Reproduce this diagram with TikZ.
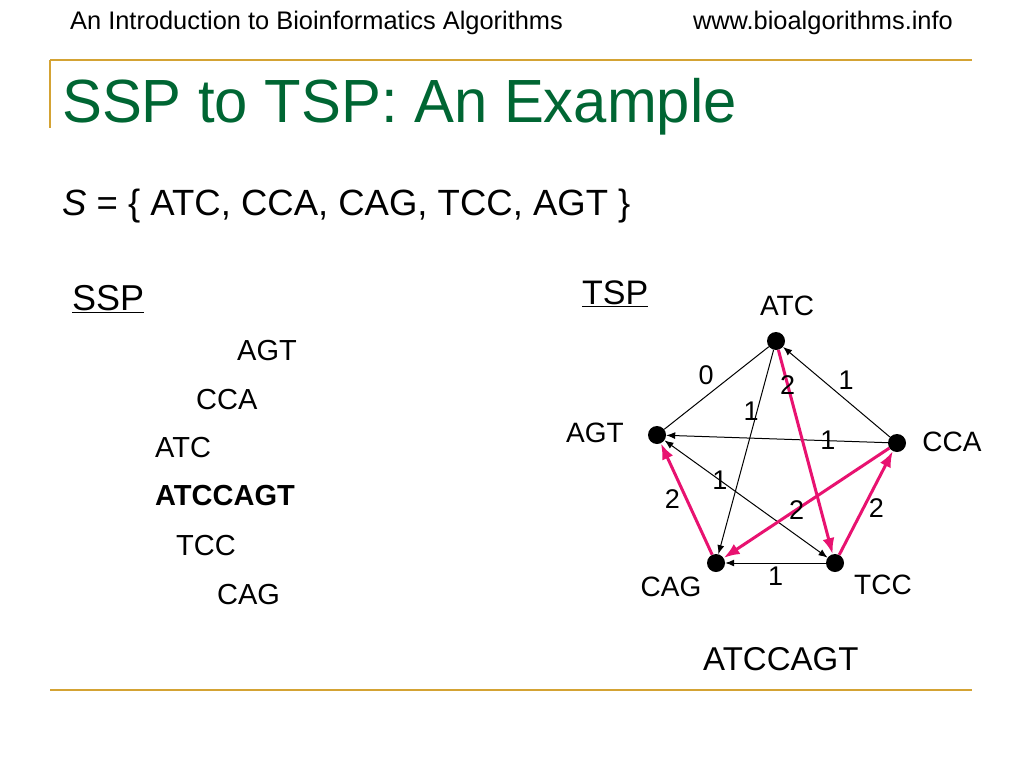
\documentclass[tikz,border=0pt]{standalone}
\usepackage{fontspec}
\setmainfont{Liberation Sans}
\usepackage{xcolor}
\usetikzlibrary{arrows.meta, positioning, calc}
\definecolor{gold}{RGB}{212,163,52}
\definecolor{ttlgreen}{RGB}{0,102,51}
\definecolor{pathpink}{RGB}{232,18,112}
\newcommand\fsz[1]{\fontsize{#1}{#1}\selectfont}

\begin{document}
\begin{tikzpicture}[x=1pt, y=-1pt,
    txt/.style={inner sep=0pt, anchor=base west},
    dot/.style={circle, fill=black, minimum size=18pt, inner sep=0pt},
    vname/.style={inner sep=0pt, font=\fsz{28}},
    wt/.style={inner sep=1pt, font=\fsz{27}},
    blk/.style={line width=1pt, -{Latex[length=9pt,width=7pt]}},
    pnk/.style={draw=pathpink, line width=3pt, -{Latex[length=16pt,width=12pt]}},
    rule/.style={draw=gold, line width=2pt}]
    \useasboundingbox (0,0) rectangle (1024,768);
    % header and title
    \node[txt, font=\fsz{25.4}] (hdl) at (70,30) {An Introduction to Bioinformatics Algorithms};
    \node[txt, anchor=base east, font=\fsz{25.4}] (hdr) at (953,30) {www.bioalgorithms.info};
    \draw[rule] (50,60) -- (972,60);
    \draw[rule] (50,60) -- (50,128);
    \node[txt, font=\fsz{61}, text=ttlgreen, xscale=.98] (ttl) at (62,122) {SSP to TSP: An Example};
    \node[txt, font=\fsz{36.5}] (set) at (62,215) {\textit{S} = \{ ATC, CCA, CAG, TCC, AGT \}};
    % SSP side
    \node[txt, font=\fsz{36}] (ssp) at (72,310) {\underline{SSP}};
    \begin{scope}[every node/.style={inner sep=0pt, anchor=west, font=\fsz{29}}]
        \node (s1) at (237,351) {AGT};
        \node (s2) at (196,400) {CCA};
        \node (s3) at (155,448) {ATC};
        \node (s4) at (155,496) {\bfseries ATCCAGT};
        \node (s5) at (176,546) {TCC};
        \node (s6) at (217,595) {CAG};
    \end{scope}
    % TSP side
    \node[txt, font=\fsz{34}] (tsp) at (582,304) {\underline{TSP}};
    \node[dot] (atc) at (776,341) {};
    \node[dot] (agt) at (657,435) {};
    \node[dot] (cca) at (897,443) {};
    \node[dot] (cag) at (716,563) {};
    \node[dot] (tcc) at (835,563) {};
    \node[vname] (latc) at (787,306) {ATC};
    \node[vname] (lagt) at (595,433) {AGT};
    \node[vname] (lcca) at (952,442) {CCA};
    \node[vname] (lcag) at (671,587) {CAG};
    \node[vname] (ltcc) at (883,585) {TCC};

    \draw[line width=1pt] (atc) -- node[wt, pos=.5, above left=2pt] {0} (agt);
    \draw[blk] (cca) -- node[wt, pos=.5, above right=1pt] {1} (atc);
    \draw[blk] (atc) -- node[wt, pos=.3, xshift=-6pt] {1} (cag);
    \draw[blk] (cca) -- node[wt, pos=.27] {1} (agt);
    \draw[line width=1pt, {Latex[length=9pt,width=7pt]}-{Latex[length=9pt,width=7pt]}] (agt) -- node[wt, pos=.34] {1} (tcc);
    \draw[blk] (tcc) -- node[wt, pos=.5, below=2pt] {1} (cag);
    \draw[pnk] (atc) -- node[wt, pos=.17, text=black] {2} (tcc);
    \draw[pnk] (cca) -- node[wt, pos=.56, text=black] {2} (cag);
    \draw[pnk] (cag) -- node[wt, pos=.5, left=4pt, text=black] {2} (agt);
    \draw[pnk] (tcc) -- node[wt, pos=.45, right=3pt, text=black] {2} (cca);

    \node[txt, font=\fsz{33}] (res) at (703,670) {ATCCAGT};
    \draw[rule] (50,690) -- (972,690);
\end{tikzpicture}
\end{document}
